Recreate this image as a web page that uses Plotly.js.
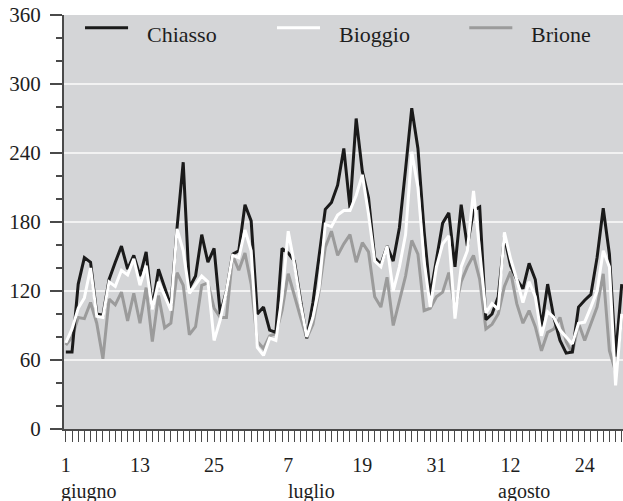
<!DOCTYPE html>
<html>
<head>
<meta charset="utf-8">
<script src="https://cdn.plot.ly/plotly-3.0.1.min.js"></script>
<style>
  html, body { margin: 0; padding: 0; background: #ffffff; }
  #chart { width: 623px; height: 501px; }
</style>
</head>
<body>
<div id="chart"></div>
<script>
// Daily values, 1 June – 30 August
const seriesNames = ["Chiasso", "Bioggio", "Brione"];

const chiasso = [
  67, 67, 126, 149, 145, 100, 99, 130, 145, 159,
  139, 151, 133, 154, 105, 139, 123, 107, 175, 232,
  123, 133, 169, 145, 157, 100, 120, 152, 155, 195,
  181, 100, 106, 86, 84, 157, 153, 146, 112, 79,
  110, 149, 191, 197, 212, 244, 192, 270, 224, 201,
  149, 143, 159, 146, 175, 226, 279, 244, 172, 116,
  149, 179, 188, 141, 195, 159, 190, 193, 95, 100,
  115, 167, 142, 130, 122, 144, 130, 89, 126, 97,
  77, 66, 67, 106, 112, 117, 149, 192, 152, 63, 126
];

const bioggio = [
  75, 87, 105, 114, 140, 98, 97, 128, 124, 138,
  134, 148, 125, 142, 104, 128, 116, 103, 174, 155,
  118, 126, 133, 128, 77, 95, 120, 151, 149, 173,
  155, 71, 64, 79, 77, 115, 172, 143, 109, 80,
  97, 123, 178, 176, 186, 190, 190, 203, 221, 187,
  146, 141, 159, 120, 141, 169, 241, 210, 146, 106,
  141, 161, 168, 96, 141, 155, 207, 155, 101, 109,
  104, 171, 148, 130, 110, 128, 115, 81, 102, 97,
  86, 80, 74, 92, 93, 106, 120, 155, 141, 38, 100
];

const brione = [
  73, 80, 97, 96, 110, 92, 61, 113, 108, 119,
  94, 118, 92, 123, 76, 116, 88, 92, 136, 125,
  82, 89, 125, 127, 105, 97, 97, 151, 138, 153,
  126, 76, 70, 81, 83, 103, 135, 115, 97, 79,
  91, 120, 158, 172, 151, 161, 169, 145, 162, 154,
  115, 106, 132, 90, 112, 133, 164, 152, 103, 105,
  115, 119, 136, 104, 128, 141, 151, 130, 87, 91,
  100, 124, 137, 109, 92, 103, 89, 68, 84, 87,
  97, 76, 66, 92, 77, 92, 106, 135, 68, 50, 97
];

// Tick labels (every 12th day) and month names
const tickLabels = ["1", "13", "25", "7", "19", "31", "12", "24"];
const months = ["giugno", "luglio", "agosto"];

const seriesColors = ["#1a1a1a", "#ffffff", "#9b9b9b"];

const dayIndex = chiasso.map((_, i) => i);
const tickStep = 12;
const tickVals = tickLabels.map((_, k) => k * tickStep);
const monthPos = [3.7, 39.7, 74.1];

const FONT = "Liberation Serif";
const AX = "#4a4a4a";
const TXT = "#1e1e1e";

const traces = [
  {
    x: dayIndex, y: brione, name: seriesNames[2], type: "scatter", mode: "lines",
    line: { color: seriesColors[2], width: 3 }
  },
  {
    x: dayIndex, y: chiasso, name: seriesNames[0], type: "scatter", mode: "lines",
    line: { color: seriesColors[0], width: 3 }
  },
  {
    x: dayIndex, y: bioggio, name: seriesNames[1], type: "scatter", mode: "lines",
    line: { color: seriesColors[1], width: 3 }
  }
];

// Custom legend (key lines + labels) placed in paper coordinates
const legendLineX0 = [0.0376, 0.381, 0.725];
const legendKeyLen = 0.077;
const legendTextGap = 0.107;
const legendLineY = 0.969;
const legendTextY = 0.953;

const legendShapes = seriesNames.map((n, k) => ({
  type: "line", xref: "paper", yref: "paper",
  x0: legendLineX0[k], x1: legendLineX0[k] + legendKeyLen,
  y0: legendLineY, y1: legendLineY,
  line: { color: seriesColors[k], width: 3 }
}));

const legendLabels = seriesNames.map((n, k) => ({
  text: n, xref: "paper", yref: "paper",
  x: legendLineX0[k] + legendTextGap, y: legendTextY,
  xanchor: "left", yanchor: "middle", showarrow: false,
  font: { family: FONT, size: 22, color: TXT }
}));

const monthLabels = months.map((m, k) => ({
  text: m, x: monthPos[k], xref: "x", y: -0.152, yref: "paper",
  xanchor: "center", yanchor: "middle", showarrow: false, borderpad: 0,
  font: { family: FONT, size: 20, color: TXT }
}));

const layout = {
  width: 623, height: 501,
  margin: { l: 64, r: 0, t: 15, b: 72, pad: 0 },
  paper_bgcolor: "#ffffff",
  plot_bgcolor: "#d4d5d7",
  font: { family: FONT, size: 21, color: TXT },
  showlegend: false,
  xaxis: {
    range: [-0.3, 90.2],
    tickmode: "array", tickvals: tickVals, ticktext: tickLabels,
    ticks: "outside", ticklen: 11, tickwidth: 1, tickcolor: AX,
    minor: { dtick: 1, tick0: 0, ticks: "outside", ticklen: 11, tickwidth: 1, tickcolor: AX, showgrid: false },
    showgrid: false, zeroline: false,
    showline: true, linecolor: AX, linewidth: 2,
    ticklabelstandoff: 6,
    tickfont: { family: FONT, size: 20, color: TXT }
  },
  yaxis: {
    range: [0, 360],
    tickmode: "array", tickvals: [0, 60, 120, 180, 240, 300, 360],
    ticks: "outside", ticklen: 12, tickwidth: 1.5, tickcolor: AX,
    minor: { dtick: 20, tick0: 0, ticks: "outside", ticklen: 6, tickwidth: 1.5, tickcolor: AX, showgrid: false },
    showgrid: true, gridcolor: "#f2f2f2", gridwidth: 1.5,
    zeroline: false,
    showline: true, linecolor: AX, linewidth: 2,
    ticklabelstandoff: 5,
    tickfont: { family: FONT, size: 21, color: TXT }
  },
  shapes: legendShapes,
  annotations: legendLabels.concat(monthLabels)
};

Plotly.newPlot("chart", traces, layout, { displayModeBar: false, staticPlot: true });
</script>
</body>
</html>
